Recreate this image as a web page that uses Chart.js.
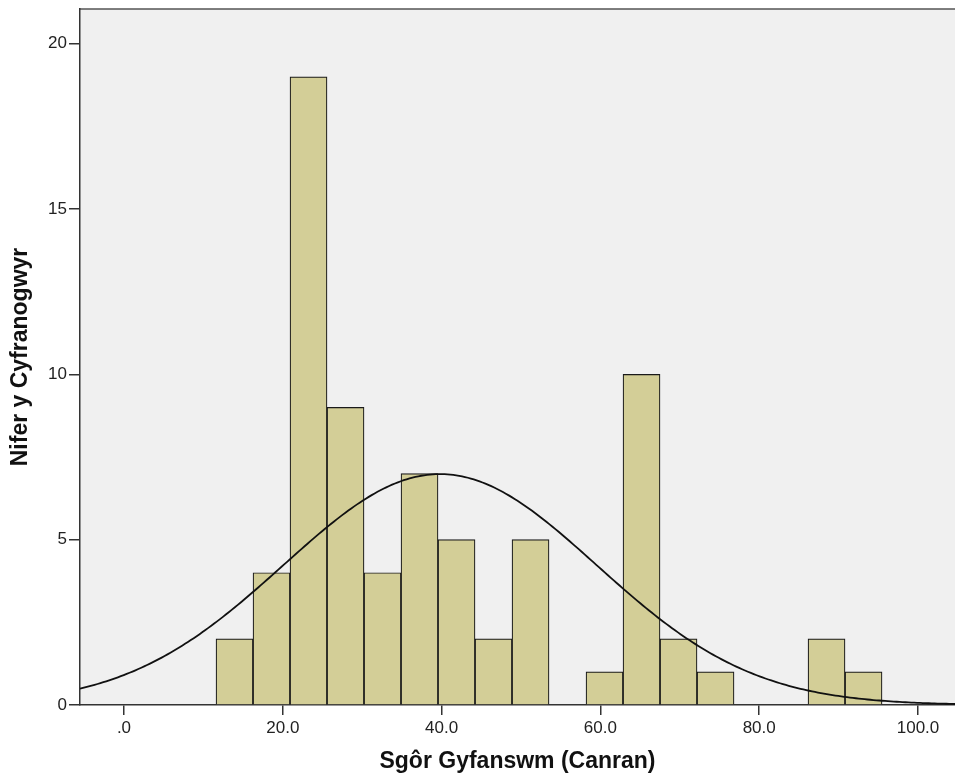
<!DOCTYPE html>
<html>
<head>
<meta charset="utf-8">
<script src="https://cdn.jsdelivr.net/npm/chart.js@4.4.1/dist/chart.umd.min.js"></script>
<style>
  html, body { margin: 0; padding: 0; background: #ffffff; }
  #wrap { width: 955px; height: 783px; }
</style>
</head>
<body>
<div id="wrap"><canvas id="c" width="955" height="783"></canvas></div>
<script>
// ---- data ----
const binStarts = [11.59, 16.25, 20.91, 25.57, 30.23, 34.89, 39.55, 44.21, 48.87,
                   53.53, 58.19, 62.85, 67.51, 72.17, 76.83, 81.49, 86.15, 90.81];
const binWidth = 4.66;
const counts = [2, 4, 19, 9, 4, 7, 5, 2, 5, 0, 1, 10, 2, 1, 0, 0, 2, 1];
const xTickValues = [0, 20, 40, 60, 80, 100];
const yTickValues = [0, 5, 10, 15, 20];
const xTitle = 'Sgôr Gyfanswm (Canran)';
const yTitle = 'Nifer y Cyfranogwyr';
// fitted normal curve parameters (as shown by the overlay)
const fitMean = 39.8;
const fitSd = 19.7;
const xMin = -5.54, xMax = 104.66, yMax = 21.05;

// ---- build datasets ----
const nTotal = counts.reduce((a, b) => a + b, 0);
const barData = binStarts.map((s, i) => ({ x: s + binWidth / 2, y: counts[i] }));
const curveData = [];
const steps = 300;
for (let k = 0; k <= steps; k++) {
  const x = xMin + (xMax - xMin) * k / steps;
  const z = (x - fitMean) / fitSd;
  const y = nTotal * binWidth * Math.exp(-0.5 * z * z) / (fitSd * Math.sqrt(2 * Math.PI));
  curveData.push({ x: x, y: y });
}

const plotBg = {
  id: 'plotBg',
  beforeDraw(chart) {
    const { ctx, chartArea: a } = chart;
    ctx.save();
    ctx.fillStyle = '#f0f0f0';
    ctx.fillRect(a.left, a.top, a.right - a.left, a.bottom - a.top);
    ctx.strokeStyle = '#555555';
    ctx.lineWidth = 1.5;
    ctx.beginPath();
    ctx.moveTo(a.left, a.top);
    ctx.lineTo(a.right, a.top);
    ctx.stroke();
    ctx.restore();
  }
};

const tickFont = { family: '"Liberation Sans", Arial, sans-serif', size: 17 };
const titleFont = { family: '"Liberation Sans", Arial, sans-serif', size: 23, weight: 'bold', lineHeight: 1 };

new Chart(document.getElementById('c'), {
  data: {
    datasets: [
      {
        type: 'line',
        data: curveData,
        borderColor: '#111111',
        borderWidth: 1.8,
        pointRadius: 0,
        fill: false,
        tension: 0,
        order: 0
      },
      {
        type: 'bar',
        data: barData,
        backgroundColor: '#d3ce97',
        borderColor: '#1a1a1a',
        borderWidth: 1.2,
        borderSkipped: 'start',
        categoryPercentage: 1.0,
        barPercentage: 1.0,
        order: 1
      }
    ]
  },
  options: {
    responsive: false,
    animation: false,
    layout: { padding: { top: 9, right: 0, left: 0, bottom: 0 } },
    plugins: { legend: { display: false }, tooltip: { enabled: false } },
    scales: {
      x: {
        type: 'linear',
        min: xMin,
        max: xMax,
        offset: false,
        afterBuildTicks: (s) => { s.ticks = xTickValues.map(v => ({ value: v })); },
        afterFit: (s) => { s.height = 78; s.paddingLeft = 0; s.paddingRight = 0; },
        grid: { offset: false, drawOnChartArea: false, drawTicks: true, tickLength: 10, color: '#333333', lineWidth: 1.5 },
        border: { display: true, color: '#333333', width: 1.5 },
        ticks: {
          font: tickFont, color: '#222222', padding: 3, maxRotation: 0, autoSkip: false,
          callback: (v) => (v === 0 ? '.0' : v.toFixed(1))
        },
        title: { display: true, text: xTitle, font: titleFont, color: '#111111', padding: { top: 0, bottom: 10 } }
      },
      y: {
        type: 'linear',
        min: 0,
        max: yMax,
        afterBuildTicks: (s) => { s.ticks = yTickValues.map(v => ({ value: v })); },
        afterFit: (s) => { s.width = 80; s.paddingTop = 0; s.paddingBottom = 0; },
        grid: { offset: false, drawOnChartArea: false, drawTicks: true, tickLength: 11, color: '#333333', lineWidth: 1.5 },
        border: { display: true, color: '#333333', width: 1.5 },
        ticks: { font: tickFont, color: '#222222', padding: 2, callback: (v) => String(v) },
        title: { display: true, text: yTitle, font: titleFont, color: '#111111', padding: { top: 9, bottom: 0 } }
      }
    }
  },
  plugins: [plotBg]
});
</script>
</body>
</html>
